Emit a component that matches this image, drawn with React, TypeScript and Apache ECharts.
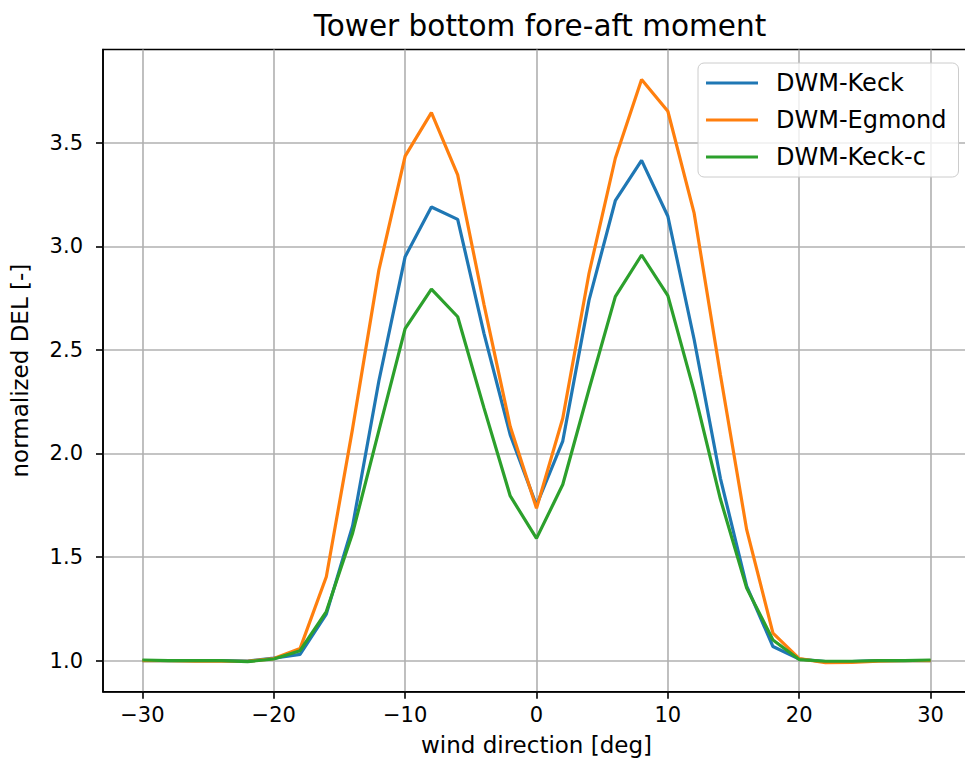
import React, { useEffect, useRef } from "react";
import * as echarts from "echarts";

// wind direction [deg]
const windDirection = [
  -30, -28, -26, -24, -22, -20, -18, -16, -14, -12, -10, -8, -6, -4, -2, 0,
  2, 4, 6, 8, 10, 12, 14, 16, 18, 20, 22, 24, 26, 28, 30,
];

const dwmKeck = [
  1.0, 1.0, 1.0, 1.0, 0.998, 1.012, 1.03, 1.225, 1.65, 2.35, 2.95, 3.19, 3.13,
  2.58, 2.09, 1.75, 2.06, 2.74, 3.22, 3.415, 3.145, 2.55, 1.88, 1.36, 1.068,
  1.008, 0.995, 0.995, 1.0, 1.0, 1.0,
];

const dwmEgmond = [
  1.0, 1.0, 0.998, 0.997, 0.997, 1.01, 1.058, 1.405, 2.12, 2.885, 3.435, 3.645,
  3.345, 2.72, 2.13, 1.735, 2.17, 2.87, 3.425, 3.805, 3.652, 3.16, 2.38, 1.632,
  1.133, 1.01, 0.99, 0.992, 0.998, 1.0, 1.0,
];

const dwmKeckC = [
  1.003, 1.0, 1.0, 1.0, 0.995, 1.008, 1.048, 1.237, 1.615, 2.11, 2.603, 2.793,
  2.66, 2.22, 1.795, 1.59, 1.85, 2.31, 2.757, 2.958, 2.762, 2.3, 1.78, 1.35,
  1.1, 1.005, 0.997, 0.997, 1.0, 1.0, 1.003,
];

const xTicks = [-30, -20, -10, 0, 10, 20, 30];
const yTicks = [1.0, 1.5, 2.0, 2.5, 3.0, 3.5];

const FONT = "DejaVu Sans";
const GRID_COLOR = "#b0b0b0";

export default function App() {
  const ref = useRef<HTMLDivElement>(null);

  useEffect(() => {
    if (!ref.current) return;
    const chart = echarts.init(ref.current, undefined, { renderer: "svg" });

    const pair = (ys: number[]) => windDirection.map((x, i) => [x, ys[i]]);
    const lineSeries = (name: string, ys: number[], color: string) => ({
      name,
      type: "line" as const,
      data: pair(ys),
      symbol: "none",
      lineStyle: { color, width: 3.2 },
      itemStyle: { color },
      z: 5,
    });

    chart.setOption({
      animation: false,
      textStyle: { fontFamily: FONT },
      title: {
        text: "Tower bottom fore-aft moment",
        left: 535,
        top: 6,
        textAlign: "center",
        textStyle: { fontFamily: FONT, fontSize: 29.5, fontWeight: "normal", color: "#000" },
      },
      grid: {
        left: 103,
        top: 49.5,
        width: 867,
        bottom: 77.3,
        outerBoundsMode: "none",
        show: true,
        borderColor: "#000",
        borderWidth: 1.6,
        backgroundColor: "transparent",
      },
      legend: {
        orient: "vertical",
        left: 698,
        top: 63,
        padding: [8, 12, 8, 8],
        itemGap: 13,
        icon: "rect",
        itemWidth: 52,
        itemHeight: 3.2,
        borderColor: "#cccccc",
        borderWidth: 1,
        borderRadius: 6,
        backgroundColor: "rgba(255,255,255,0.8)",
        textStyle: { fontFamily: FONT, fontSize: 24, color: "#000", padding: [0, 0, 0, 13] },
        data: ["DWM-Keck", "DWM-Egmond", "DWM-Keck-c"],
      },
      xAxis: {
        type: "value",
        min: -33,
        max: 33,
        name: "wind direction [deg]",
        nameLocation: "middle",
        nameGap: 42,
        nameTextStyle: { fontFamily: FONT, fontSize: 23, color: "#000" },
        axisLine: { show: true, onZero: false, lineStyle: { color: "#000", width: 1.6 } },
        axisTick: { show: true, length: 7, inside: false, customValues: xTicks, lineStyle: { color: "#000", width: 1.6 } },
        axisLabel: {
          customValues: xTicks,
          margin: 13,
          fontFamily: FONT,
          fontSize: 21,
          color: "#000",
          formatter: (v: number) => (v < 0 ? "\u2212" + Math.abs(v) : String(v)),
        },
        splitLine: { show: true, lineStyle: { color: GRID_COLOR, width: 1.6 } },
      },
      yAxis: {
        type: "value",
        min: 0.85,
        max: 3.95,
        name: "normalized DEL [-]",
        nameLocation: "middle",
        nameGap: 72,
        nameTextStyle: { fontFamily: FONT, fontSize: 23, color: "#000" },
        axisLine: { show: true, onZero: false, lineStyle: { color: "#000", width: 1.6 } },
        axisTick: { show: true, length: 7, inside: false, customValues: yTicks, lineStyle: { color: "#000", width: 1.6 } },
        axisLabel: {
          customValues: yTicks,
          margin: 20,
          fontFamily: FONT,
          fontSize: 21,
          color: "#000",
          formatter: (v: number) => v.toFixed(1),
        },
        splitLine: { show: true, lineStyle: { color: GRID_COLOR, width: 1.6 } },
      },
      series: [
        lineSeries("DWM-Keck", dwmKeck, "#1f77b4"),
        lineSeries("DWM-Egmond", dwmEgmond, "#ff7f0e"),
        lineSeries("DWM-Keck-c", dwmKeckC, "#2ca02c"),
      ],
    });

    return () => chart.dispose();
  }, []);

  return (
    <div
      ref={ref}
      style={{ position: "fixed", left: 0, top: 0, width: 980, height: 769, background: "#fff" }}
    />
  );
}
